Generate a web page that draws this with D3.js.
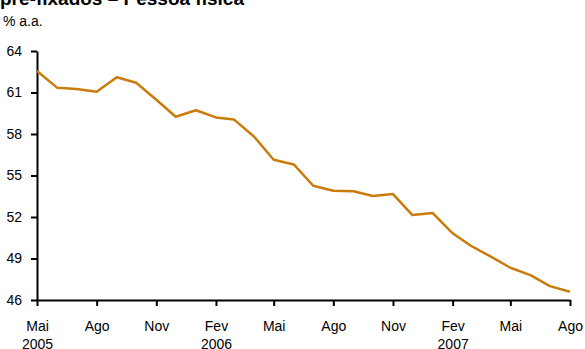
<!DOCTYPE html>
<html>
<head>
<meta charset="utf-8">
<script src="https://cdn.jsdelivr.net/npm/d3@7"></script>
<style>
  html, body { margin: 0; padding: 0; background: #fff; }
  svg { display: block; font-family: Arial, "Liberation Sans", sans-serif; }
</style>
</head>
<body>
<svg id="chart" width="585" height="349"></svg>
<script>
// Monthly rates, May 2005 – Aug 2007 (% a.a.)
const months = [
  "2005-05","2005-06","2005-07","2005-08","2005-09","2005-10","2005-11","2005-12",
  "2006-01","2006-02","2006-03","2006-04","2006-05","2006-06","2006-07","2006-08",
  "2006-09","2006-10","2006-11","2006-12","2007-01","2007-02","2007-03","2007-04",
  "2007-05","2007-06","2007-07","2007-08"
];
const rates = [
  62.55, 61.35, 61.25, 61.06, 62.10, 61.70, 60.48, 59.25,
  59.72, 59.20, 59.04, 57.80, 56.14, 55.80, 54.26, 53.90,
  53.86, 53.52, 53.66, 52.14, 52.29, 50.82, 49.92, 49.13,
  48.33, 47.80, 47.00, 46.60
];
const yTicks = [46, 49, 52, 55, 58, 61, 64];
const xTickMonths = ["2005-05","2005-08","2005-11","2006-02","2006-05","2006-08","2006-11","2007-02","2007-05","2007-08"];
const monthNames = ["Jan","Fev","Mar","Abr","Mai","Jun","Jul","Ago","Set","Out","Nov","Dez"];
const yearLabelled = {"2005-05": "2005", "2006-02": "2006", "2007-02": "2007"};

const parse = d3.timeParse("%Y-%m");
const data = months.map((m, i) => ({ date: parse(m), value: rates[i] }));

const svg = d3.select("#chart");
const margin = { left: 37, right: 15, top: 51, bottom: 49 };
const W = 585, H = 349;
const FONT = "Arial, 'Liberation Sans', sans-serif";

const x = d3.scaleTime()
  .domain(d3.extent(data, d => d.date))
  .range([margin.left, W - margin.right]);
const y = d3.scaleLinear()
  .domain([46, 64])
  .range([H - margin.bottom, margin.top]);

// Title (runs off the top edge) and unit label
svg.append("text")
  .attr("x", 0).attr("y", 5)
  .attr("font-size", 19).attr("font-weight", "bold")
  .text("pré-fixados – Pessoa física");
svg.append("text")
  .attr("x", 3).attr("y", 26)
  .attr("font-size", 14)
  .text("% a.a.");

// Y axis
const yAxis = svg.append("g")
  .attr("transform", `translate(${margin.left},0)`)
  .call(d3.axisLeft(y).tickValues(yTicks).tickSize(6).tickPadding(9).tickSizeOuter(0));
yAxis.select(".domain").attr("stroke", "#000").attr("stroke-width", 2);
yAxis.selectAll(".tick line").attr("stroke", "#000").attr("stroke-width", 2);
yAxis.selectAll(".tick text").attr("font-size", 14).attr("fill", "#000")
  .attr("font-family", FONT);

// X axis, with the year under the first month of each year shown
const xAxis = svg.append("g")
  .attr("transform", `translate(0,${H - margin.bottom})`)
  .call(d3.axisBottom(x).tickValues(xTickMonths.map(parse)).tickSize(6).tickPadding(15).tickSizeOuter(0)
    .tickFormat(d => monthNames[d.getMonth()]));
xAxis.select(".domain").attr("stroke", "#000").attr("stroke-width", 2);
xAxis.selectAll(".tick line").attr("stroke", "#000").attr("stroke-width", 2);
xAxis.selectAll(".tick text").attr("font-size", 14).attr("fill", "#000")
  .attr("font-family", FONT)
  .each(function(d) {
    const key = d3.timeFormat("%Y-%m")(d);
    if (yearLabelled[key]) {
      d3.select(this).append("tspan")
        .attr("x", 0).attr("dy", "1.3em")
        .text(yearLabelled[key]);
    }
  });

// Rate line
svg.append("path")
  .datum(data)
  .attr("fill", "none")
  .attr("stroke", "#c97c0b")
  .attr("stroke-width", 2.5)
  .attr("stroke-linejoin", "round")
  .attr("d", d3.line().x(d => x(d.date)).y(d => y(d.value)));
</script>
</body>
</html>
